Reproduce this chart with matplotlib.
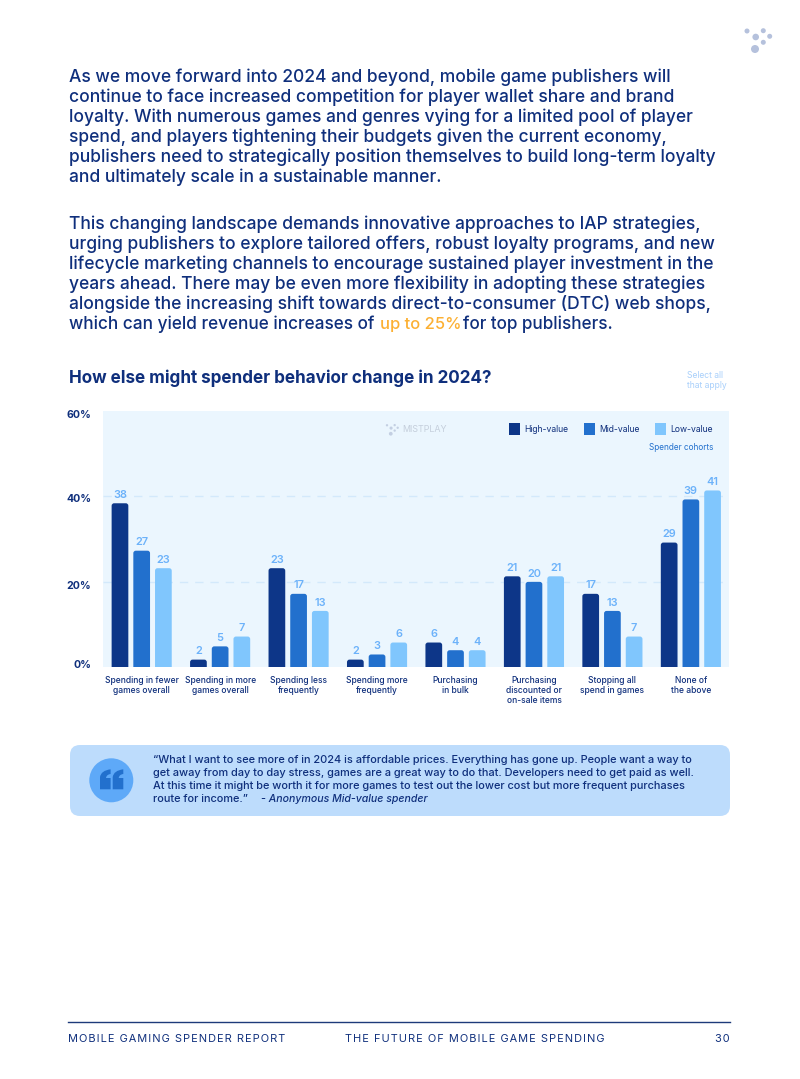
import matplotlib
matplotlib.use("Agg")
import matplotlib.pyplot as plt
from matplotlib.patches import FancyBboxPatch, Circle, PathPatch, Patch
from matplotlib.path import Path
from matplotlib.transforms import ScaledTranslation

plt.rcParams['font.family'] = ['Inter', 'DejaVu Sans']

categories = ["Spending in fewer\ngames overall", "Spending in more\ngames overall", "Spending less\nfrequently",
              "Spending more\nfrequently", "Purchasing\nin bulk", "Purchasing\ndiscounted or\non-sale items",
              "Stopping all\nspend in games", "None of\nthe above"]
high = [38.4, 1.8, 23.2, 1.8, 5.8, 21.3, 17.2, 29.2]
mid = [27.3, 4.9, 17.2, 3.0, 4.0, 20.0, 13.2, 39.3]
low = [23.2, 7.2, 13.2, 5.8, 4.0, 21.3, 7.2, 41.4]
series_names = ["High-value", "Mid-value", "Low-value"]
yticks = [0, 20, 40, 60]

para1 = ["As we move forward into 2024 and beyond, mobile game publishers will",
         "continue to face increased competition for player wallet share and brand",
         "loyalty. With numerous games and genres vying for a limited pool of player",
         "spend, and players tightening their budgets given the current economy,",
         "publishers need to strategically position themselves to build long-term loyalty",
         "and ultimately scale in a sustainable manner."]
para2 = ["This changing landscape demands innovative approaches to IAP strategies,",
         "urging publishers to explore tailored offers, robust loyalty programs, and new",
         "lifecycle marketing channels to encourage sustained player investment in the",
         "years ahead. There may be even more flexibility in adopting these strategies",
         "alongside the increasing shift towards direct-to-consumer (DTC) web shops,"]
quote = ["\u201cWhat I want to see more of in 2024 is affordable prices. Everything has gone up. People want a way to",
         "get away from day to day stress, games are a great way to do that. Developers need to get paid as well.",
         "At this time it might be worth it for more games to test out the lower cost but more frequent purchases"]

NAVY = "#0f2f7c"
DARK = "#0d3688"
MIDC = "#2270cd"
LIGHT = "#80c6fd"
LABEL = "#6cb2fa"
colors = [DARK, MIDC, LIGHT]
BODY = 12.55

fig = plt.figure(figsize=(8, 10.79), dpi=100, facecolor="white")

# page layer in pixel coords
pg = fig.add_axes([0, 0, 1, 1])
pg.set_xlim(0, 800)
pg.set_ylim(1079, 0)
pg.axis("off")

def dots(cx, cy, s, col):
    pts = [(-8.5, -9, 2.5), (7.8, -9.3, 2.5), (0.2, -3, 3.3), (14.2, -3.7, 2.5), (7.8, 2.3, 2.5), (-0.5, 9, 4)]
    for dx, dy, r in pts:
        pg.add_patch(Circle((cx + dx * s, cy + dy * s), r * s, color=col, lw=0))

dots(755.5, 40, 1, "#b5c1dc")

for i, line in enumerate(para1):
    pg.text(69, 77 + i * 20, line, fontsize=BODY, fontweight="medium", color=NAVY, va="center")
for i, line in enumerate(para2):
    pg.text(69, 224 + i * 20, line, fontsize=BODY, fontweight="medium", color=NAVY, va="center")
pg.text(69, 324, "which can yield revenue increases of", fontsize=12.4, fontweight="medium", color=NAVY, va="center")
pg.text(380, 324, "up to 25%", fontsize=11.9, fontweight="medium", color="#fcb033", va="center")
pg.text(463, 324, "for top publishers.", fontsize=12.3, fontweight="medium", color=NAVY, va="center")

pg.text(69, 378, "How else might spender behavior change in 2024?", fontsize=12.3, fontweight="bold", color=NAVY, va="center")
pg.text(687, 376, "Select all", fontsize=6.2, color="#a9d0fb", va="center")
pg.text(687, 385, "that apply", fontsize=6.2, color="#a9d0fb", va="center")

# quote box
pg.add_patch(FancyBboxPatch((80, 755), 640, 51, boxstyle="round,pad=10,rounding_size=10", fc="#bddcfc", ec="none"))
pg.add_patch(Circle((111.3, 780.3), 22, fc="#5ea9f8", ec="none"))
for x0 in (100, 112.7):
    verts = [(x0, 789.3), (x0, 777), (x0 + 1, 770.5), (x0 + 10.6, 769.3), (x0 + 10.6, 774), (x0 + 6.5, 774.5), (x0 + 6, 778),
             (x0 + 10.6, 778), (x0 + 10.6, 789.3), (x0, 789.3)]
    codes = [Path.MOVETO, Path.LINETO, Path.CURVE3, Path.CURVE3, Path.LINETO, Path.CURVE3, Path.CURVE3,
             Path.LINETO, Path.LINETO, Path.CLOSEPOLY]
    pg.add_patch(PathPatch(Path(verts, codes), fc=MIDC, ec="none"))
for i, line in enumerate(quote):
    pg.text(153, 760 + i * 13, line, fontsize=7.9, fontweight="medium", color=NAVY, va="center")
pg.text(153, 799, "route for income.\u201d", fontsize=7.9, fontweight="medium", color=NAVY, va="center")
pg.text(261, 799, "- Anonymous Mid-value spender", fontsize=7.6, fontstyle="italic", fontweight="medium", color=NAVY, va="center")

# footer
pg.plot([68, 730], [1021.5, 1021.5], color="#1d3a7a", lw=1)
hair = "\u200a"
pg.text(68, 1039.5, hair.join("MOBILE GAMING SPENDER REPORT"), fontsize=7.9, color=NAVY, va="center")
pg.text(345, 1039.5, hair.join("THE FUTURE OF MOBILE GAME SPENDING"), fontsize=7.9, color=NAVY, va="center")
pg.text(730, 1039.5, hair.join("30"), fontsize=7.9, color=NAVY, va="center", ha="right")

# chart logo
dots(391, 429.5, 0.47, "#c3cfe2")
pg.text(402, 429.5, "MISTPLAY", fontsize=6.4, color="#c5cfdc", va="center")

# chart
ax = fig.add_axes([103 / 800, 1 - 667.3 / 1079, 626 / 800, 256.3 / 1079])
ax.set_zorder(-1)
pg.patch.set_alpha(0)
ax.set_facecolor("#ebf6fe")
ax.set_xlim(-0.493, 7.486)
ax.set_ylim(0, 60)
for s in ax.spines.values():
    s.set_visible(False)
ax.set_yticks(yticks)
ax.set_yticklabels([f"{t}%" for t in yticks], fontsize=7.6, fontweight="bold", color=NAVY)
ax.tick_params(axis="both", length=0)
ax.tick_params(axis="y", pad=8.5)
ax.grid(axis="y", color="#d3e9fb", lw=1, ls=(0, (6, 5)))
ax.get_ygridlines()[-1].set_visible(False)
ax.get_ygridlines()[0].set_visible(False)
ax.set_axisbelow(True)
for lab, dy in zip(ax.get_yticklabels(), [3, -3, -2, -3]):
    lab.set_transform(lab.get_transform() + ScaledTranslation(0, dy / 100, fig.dpi_scale_trans))
ax.set_xticks(range(len(categories)))
ax.set_xticklabels(categories, fontsize=6.1, fontweight="medium", color=NAVY, linespacing=1.12, va="top")
ax.tick_params(axis="x", pad=6.5)

bw = 0.213
step = 0.2766
for j, vals in enumerate([high, mid, low]):
    for i, v in enumerate(vals):
        x = i + (j - 1) * step
        ax.add_patch(FancyBboxPatch((x - bw / 2, -2), bw, v + 2, boxstyle="round,pad=0,rounding_size=0.032",
                                    mutation_aspect=18.4, fc=colors[j], ec="none", zorder=3))
        ax.annotate(f"{v:.0f}", (x, v), xytext=(0, 6), textcoords="offset points",
                    ha="center", va="center", fontsize=7.9, fontweight="semibold", color=LABEL, zorder=4)

handles = [Patch(fc=c, ec="none") for c in colors]
ax.legend(handles, series_names, ncols=3, frameon=False, loc="upper right", bbox_to_anchor=(0.974, 0.952), borderaxespad=0,
          fontsize=6.2, labelcolor=NAVY, handlelength=1.3, handleheight=1.7, handletextpad=0.5, columnspacing=1.75, borderpad=0)
pg.text(713, 447.5, "Spender cohorts", fontsize=5.9, color=MIDC, ha="right", va="center")

fig.savefig("out.png", dpi=100)
